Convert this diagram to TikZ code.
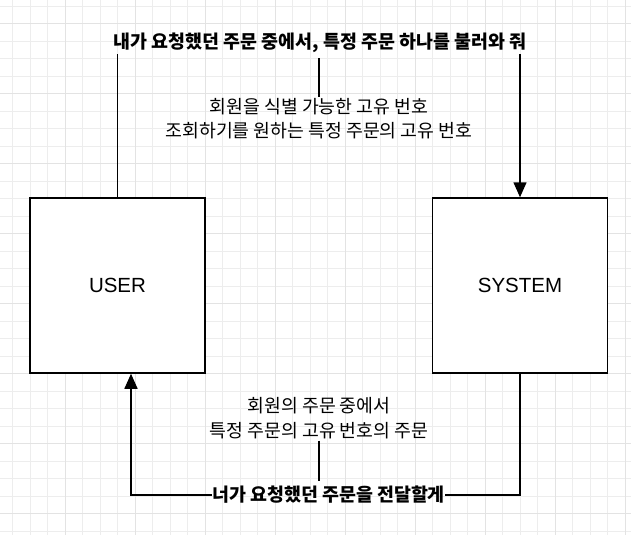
\documentclass[tikz,border=0pt]{standalone}
\usepackage{fontspec}
\setmainfont{Liberation Sans}
\newfontfamily\kr{Noto Sans CJK KR}
\usetikzlibrary{arrows.meta}
\begin{document}
\begin{tikzpicture}[x=1pt,y=-1pt,
  gridminor/.style={draw=black!7,line width=0.6pt},
  gridmajor/.style={draw=black!11,line width=0.8pt},
  box/.style={draw=black,fill=white,line width=1.5pt,minimum width=175pt,minimum height=175pt,inner sep=0pt,font=\fontsize{20.5}{24}\selectfont},
  boldlbl/.style={inner sep=0pt,font=\kr\bfseries\fontsize{18.4}{22}\selectfont},
  lbl/.style={inner sep=0pt,align=center,font=\kr\fontsize{18.3}{24.5}\selectfont},
  conn/.style={draw=black,line width=1.5pt},
  tip/.style={-{Triangle[length=15pt,width=13pt]}}]
\useasboundingbox (0,0) rectangle (631,535);
\fill[white] (0,0) rectangle (631,535);
\foreach \i in {0,...,35} \draw[gridminor] (12.5+17.5*\i,0) -- (12.5+17.5*\i,535);
\foreach \i in {0,...,30} \draw[gridminor] (0,6+17.5*\i) -- (631,6+17.5*\i);
\foreach \i in {0,...,8} \draw[gridmajor] (65+70*\i,0) -- (65+70*\i,535);
\foreach \i in {0,...,7} \draw[gridmajor] (0,23.5+70*\i) -- (631,23.5+70*\i);

\node[box] (user) at (117.5,285.5) {USER};
\node[box] (system) at (520,285.5) {SYSTEM};

\node[boldlbl,inner ysep=1pt] (req) at (320,43) {내가 요청했던 주문 중에서, 특정 주문 하나를 불러와 줘};
\node[lbl] (reqinfo) at (319,118.5) {회원을 식별 가능한 고유 번호\\조회하기를 원하는 특정 주문의 고유 번호};
\node[lbl] (ansinfo) at (319,418) {회원의 주문 중에서\\특정 주문의 고유 번호의 주문};
\node[boldlbl] (ans) at (328.5,495) {너가 요청했던 주문을 전달할게};

\draw[conn] (user.north) -- (user.north |- req.south);
\draw[conn,tip] (system.north |- req.south) -- (system.north);
\draw[conn] ([yshift=-4pt]req.south -| reqinfo.north) -- ([yshift=1pt]reqinfo.north);
\draw[conn] (system.south) |- (ans.east);
\draw[conn,tip] (ans.west) -| ([xshift=13.5pt]user.south);
\draw[conn] ([yshift=-2pt]ansinfo.south) -- ([yshift=5pt]ansinfo.south |- ans.north);
\end{tikzpicture}
\end{document}
